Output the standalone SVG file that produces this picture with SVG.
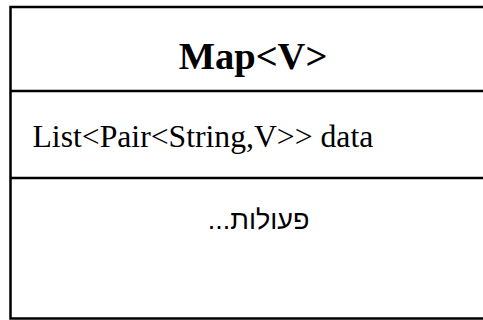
<svg xmlns="http://www.w3.org/2000/svg" width="483" height="320" viewBox="0 0 483 320">
  <style>
    .box { fill: #ffffff; stroke: #000000; stroke-width: 2.5; }
    .div { stroke: #000000; stroke-width: 2.5; }
    .title { font-family: "Liberation Serif", "Times New Roman", serif; font-weight: bold; font-size: 38.5px; fill: #000; }
    .attr { font-family: "Liberation Serif", "Times New Roman", serif; font-size: 31.7px; fill: #000; }
    .ops { font-family: "Liberation Sans", Arial, "DejaVu Sans", sans-serif; font-size: 27px; fill: #000; }
  </style>
  <rect width="483" height="320" fill="#ffffff"/>
  <g id="class-map">
    <rect class="box" x="10.5" y="7" width="490" height="311.5"/>
    <line class="div" x1="10.5" y1="91" x2="500" y2="91"/>
    <line class="div" x1="10.5" y1="178" x2="500" y2="178"/>
    <text class="title" x="253" y="68.5" text-anchor="middle">Map&lt;V&gt;</text>
    <text class="attr" x="32.5" y="147.3">List&lt;Pair&lt;String,V&gt;&gt; data</text>
    <text class="ops" x="258.7" y="229" text-anchor="middle" direction="rtl">פעולות...</text>
  </g>
  <g id="connectors"/>
</svg>
